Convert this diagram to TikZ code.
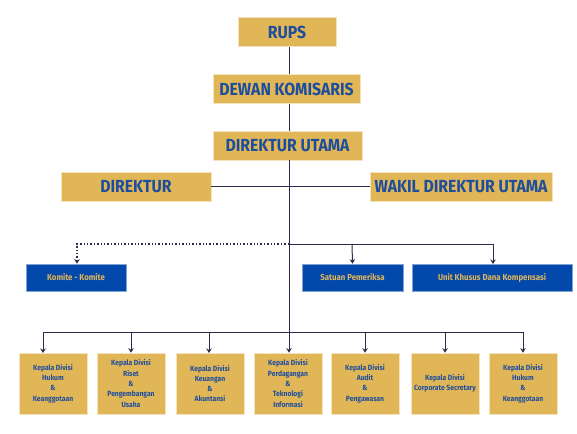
\documentclass[tikz,border=0pt]{standalone}
\usepackage{fontspec}
\setmainfont{Fira Sans}[FakeStretch=0.9]
\usetikzlibrary{arrows.meta}
\definecolor{gold}{HTML}{E1B656}
\definecolor{tblue}{HTML}{1D4E9E}
\definecolor{bbox}{HTML}{0349AC}
\definecolor{navy}{HTML}{2A2D4A}
\tikzset{
  topbox/.style={fill=gold, draw=gold!40!white, line width=0.6pt, text=tblue, font=\fontsize{17.5}{19}\selectfont\bfseries, inner sep=0pt, minimum height=29pt},
  bluebox/.style={fill=bbox, draw=bbox!50!white, line width=0.6pt, text=gold, font=\fontsize{8.7}{10}\selectfont\bfseries, inner sep=0pt, minimum height=27pt},
  divbox/.style={fill=gold, draw=gold!40!white, line width=0.6pt, text=tblue, font=\fontsize{7.5}{10.3}\selectfont\bfseries, inner sep=0pt, minimum width=68pt, minimum height=61pt, align=center},
  conn/.style={draw=navy, line width=1pt},
  arr/.style={conn, -{Stealth[length=4.5pt,width=5.5pt]}},
  dotconn/.style={draw=navy, line width=1.4pt, dotted, -{Stealth[length=4.5pt,width=5.5pt,open]}}
}
\begin{document}
\begin{tikzpicture}[x=1pt,y=-1pt]
\useasboundingbox (0,0) rectangle (577,433);
\fill[white] (0,0) rectangle (577,433);
\coordinate (t) at (289,0);
\node[topbox, minimum width=98pt] (rups) at (287,32) {RUPS};
\node[topbox, minimum width=147pt] (dk) at (286.5,89) {DEWAN KOMISARIS};
\node[topbox, minimum width=149pt] (du) at (287.5,145.5) {DIREKTUR UTAMA};
\node[topbox, minimum width=150pt] (dir) at (136,186.5) {DIREKTUR};
\node[topbox, minimum width=182pt] (wdu) at (461,186.5) {WAKIL DIREKTUR UTAMA};
\node[bluebox, minimum width=100pt] (kom) at (76,277.5) {Komite - Komite};
\node[bluebox, minimum width=101pt] (sp) at (352.5,277.5) {Satuan Pemeriksa};
\node[bluebox, minimum width=160pt] (uk) at (492,277.5) {Unit Khusus Dana Kompensasi};
\node[divbox] (d1) at (53,383.5) {Kepala Divisi\\Hukum\\\&\\Keanggotaan};
\node[divbox] (d2) at (131,383.5) {Kepala Divisi\\Riset\\\&\\Pengembangan\\Usaha};
\node[divbox] (d3) at (210,383.5) {Kepala Divisi\\Keuangan\\\&\\Akuntansi};
\node[divbox] (d4) at (288,383.5) {Kepala Divisi\\Perdagangan\\\&\\Teknologi\\Informasi};
\node[divbox] (d5) at (365,383.5) {Kepala Divisi\\Audit\\\&\\Pengawasan};
\node[divbox] (d6) at (445,383.5) {Kepala Divisi\\Corporate Secretary};
\node[divbox] (d7) at (523,383.5) {Kepala Divisi\\Hukum\\\&\\Keanggotaan};
\coordinate (h) at (289,244);
\coordinate (b) at (289,332);
% trunk
\draw[conn] (rups.south -| t) -- (dk.north -| t);
\draw[conn] (dk.south -| t) -- (du.north -| t);
\draw[conn] (du.south -| t) -- (b);
\draw[arr] (b) -- (d4.north -| b);
\draw[conn] (dir.east) -- (wdu.west);
% middle
\draw[dotconn] (h) -| (77,262) -- ([xshift=1pt]kom.north);
\draw[conn] (h) -- (493,244);
\draw[arr] (352,244) -- (sp.north);
\draw[arr] (493,244) -- (493,264);
% bottom bar
\draw[conn] (43,332) -- (523,332);
\draw[arr] (43,332) -- (43,353);
\draw[arr] (131,332) -- (d2.north);
\draw[arr] (209,332) -- (209,353);
\draw[arr] (365,332) -- (d5.north);
\draw[arr] (445,332) -- (d6.north);
\draw[arr] (523,332) -- (d7.north);
\end{tikzpicture}
\end{document}
